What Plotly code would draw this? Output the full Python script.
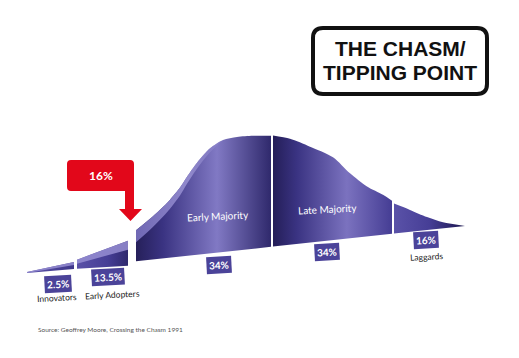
import plotly.graph_objects as go

# ---------------- data ----------------
categories = ["Innovators", "Early Adopters", "Early Majority", "Late Majority", "Laggards"]
shares = [2.5, 13.5, 34, 34, 16]
share_labels = [f"{s:g}%" for s in shares]
chasm_share = shares[0] + shares[1]          # 16 % before the chasm

# outline of each segment: position along the adoption axis, height of the
# curve top and of the segment bottom relative to the tilted baseline
innov_x = [27, 74]
innov_h = [1, 6]
innov_b = [0, -1]
adopt_x = [77, 128]
adopt_h = [8, 21.5]
adopt_b = [-1, -3.5]
early_x = [136, 150, 160, 170, 180, 187, 197, 210, 223, 237, 253, 271]
early_h = [31, 41, 49, 58, 69, 79, 92, 105, 112, 113.5, 113, 111]
late_x = [273, 290, 310, 333, 350, 367, 383, 392]
late_h = [111, 106, 96, 83, 65, 50, 40, 33]
lagg_x = [394, 410, 427, 443, 465]
lagg_h = [30, 22, 13, 6, 0]

source_text = "Source: Geoffrey Moore, Crossing the Chasm 1991"
title_lines = ["THE CHASM/", "TIPPING POINT"]

# ---------------- styling / geometry ----------------
BASE_X0, BASE_Y0, BASE_SLOPE = 27, 273, -0.1073   # perspective baseline
PAGE_MARGIN = 8                                   # default html body margin
W, H = 519, 358


def base(x):
    return BASE_Y0 + BASE_SLOPE * (x - BASE_X0)


fig = go.Figure()


def add_segment(xs, hs, colorscale, smooth=True, bottoms=None):
    x0, x1 = xs[0], xs[-1]
    b = bottoms if bottoms is not None else [0, 0]
    fig.add_trace(go.Scatter(x=[x0, x1], y=[base(x0) - b[0], base(x1) - b[-1]], mode="lines",
                             line=dict(width=0), hoverinfo="skip", showlegend=False))
    fig.add_trace(go.Scatter(
        x=xs, y=[base(x) - h for x, h in zip(xs, hs)], mode="lines",
        line=dict(width=0, shape="spline" if smooth else "linear", smoothing=0.8),
        fill="tonexty",
        fillgradient=dict(type="horizontal", colorscale=colorscale, start=x0, stop=x1),
        hoverinfo="skip", showlegend=False))


add_segment(innov_x, innov_h, [[0, "#5a52a8"], [1, "#3f378a"]], smooth=False, bottoms=innov_b)
add_segment(adopt_x, adopt_h, [[0, "#5a51a7"], [0.6, "#463e96"], [1, "#2f296e"]], smooth=False,
            bottoms=adopt_b)
add_segment(early_x, early_h, [[0, "#26205a"], [0.2, "#3a3382"], [0.6, "#8179c4"], [1, "#2f296c"]])
add_segment(late_x, late_h, [[0, "#241e58"], [0.2, "#3a3382"], [0.62, "#7b72bf"], [1, "#453d94"]])
add_segment(lagg_x, lagg_h, [[0, "#5a52a8"], [0.5, "#463e96"], [1, "#1c174f"]])

# light "top face" highlight on the rising part of the early majority
hl_x = early_x[:9]
hl_top = [base(x) - h for x, h in zip(hl_x, early_h[:9])]
hl_w = [12, 11, 10, 9, 8, 7, 6, 4, 0]
fig.add_trace(go.Scatter(x=hl_x, y=[t + w for t, w in zip(hl_top, hl_w)], mode="lines",
                         line=dict(width=0, shape="spline"), hoverinfo="skip", showlegend=False))
fig.add_trace(go.Scatter(x=hl_x, y=hl_top, mode="lines", line=dict(width=0, shape="spline"),
                         fill="tonexty",
                         fillgradient=dict(type="horizontal", start=hl_x[0], stop=hl_x[-1],
                                           colorscale=[[0, "rgba(120,112,190,0.9)"],
                                                       [0.6, "rgba(155,147,212,0.85)"],
                                                       [1, "rgba(150,142,210,0.2)"]]),
                         hoverinfo="skip", showlegend=False))

# top-face highlight on the two small ramps
for xs, hs, ws in [(innov_x, innov_h, [1, 3]), (adopt_x, adopt_h, [4, 9])]:
    tops = [base(x) - h for x, h in zip(xs, hs)]
    fig.add_trace(go.Scatter(x=xs, y=[t + w for t, w in zip(tops, ws)], mode="lines",
                             line=dict(width=0), hoverinfo="skip", showlegend=False))
    fig.add_trace(go.Scatter(x=xs, y=tops, mode="lines", line=dict(width=0), fill="tonexty",
                             fillcolor="rgba(150,142,210,0.85)", hoverinfo="skip", showlegend=False))

shapes = []
# red chasm call-out with arrow
shapes.append(dict(
    type="path", xref="x", yref="y", fillcolor="#e2071a", line=dict(width=0),
    path="M 67,164 Q 67,160 71,160 L 130,160 Q 134,160 134,164 L 134,209 L 142,209 "
         "L 130.5,221 L 119,209 L 125,209 L 125,191 L 71,191 Q 67,191 67,187 Z"))
# title box
shapes.append(dict(
    type="path", xref="x", yref="y", fillcolor="white", line=dict(color="#111", width=4),
    path="M 323,28 L 477,28 Q 487,28 487,38 L 487,84 Q 487,94 477,94 L 323,94 "
         "Q 313,94 313,84 L 313,38 Q 313,28 323,28 Z"))

annotations = []
FONT = "Lato"
# percentage boxes
box_pos = [(58, 284), (108, 277), (219, 265), (327, 252), (426, 240)]
for (bx, by), lab in zip(box_pos, share_labels):
    annotations.append(dict(x=bx, y=by, text=f"<b>{lab}</b>", showarrow=False, textangle=-3,
                            font=dict(family=FONT, size=10, color="white"),
                            bgcolor="#4b4399", borderpad=2))
# category names
name_pos = [(57, 298, "#222"), (112, 295, "#222"), (218, 216, "white"), (327, 209, "white"),
            (426, 257, "#222")]
for (nx, ny, col), name in zip(name_pos, categories):
    annotations.append(dict(x=nx, y=ny, text=name, showarrow=False, textangle=-3,
                            font=dict(family=FONT, size=8.5 if col == "#222" else 10, color=col)))
# chasm share in the red call-out
annotations.append(dict(x=101, y=175.5, text=f"<b>{chasm_share:g}%</b>", showarrow=False,
                        font=dict(family=FONT, size=12, color="white")))
# title
for ty, line in zip([48, 72], title_lines):
    annotations.append(dict(x=400, y=ty, text=f"<b>{line}</b>", showarrow=False,
                            font=dict(family="Liberation Sans", size=21, color="#111")))
# source
annotations.append(dict(x=36, y=329, text=source_text, showarrow=False, xanchor="left",
                        font=dict(family=FONT, size=6.5, color="#555")))

fig.update_layout(
    width=W - PAGE_MARGIN, height=H - PAGE_MARGIN, margin=dict(l=0, r=0, t=0, b=0),
    paper_bgcolor="white", plot_bgcolor="white",
    xaxis=dict(range=[PAGE_MARGIN, W], visible=False, fixedrange=True),
    yaxis=dict(range=[H, PAGE_MARGIN], visible=False, fixedrange=True),
    shapes=shapes, annotations=annotations, showlegend=False,
)

fig.write_html("out.html")
